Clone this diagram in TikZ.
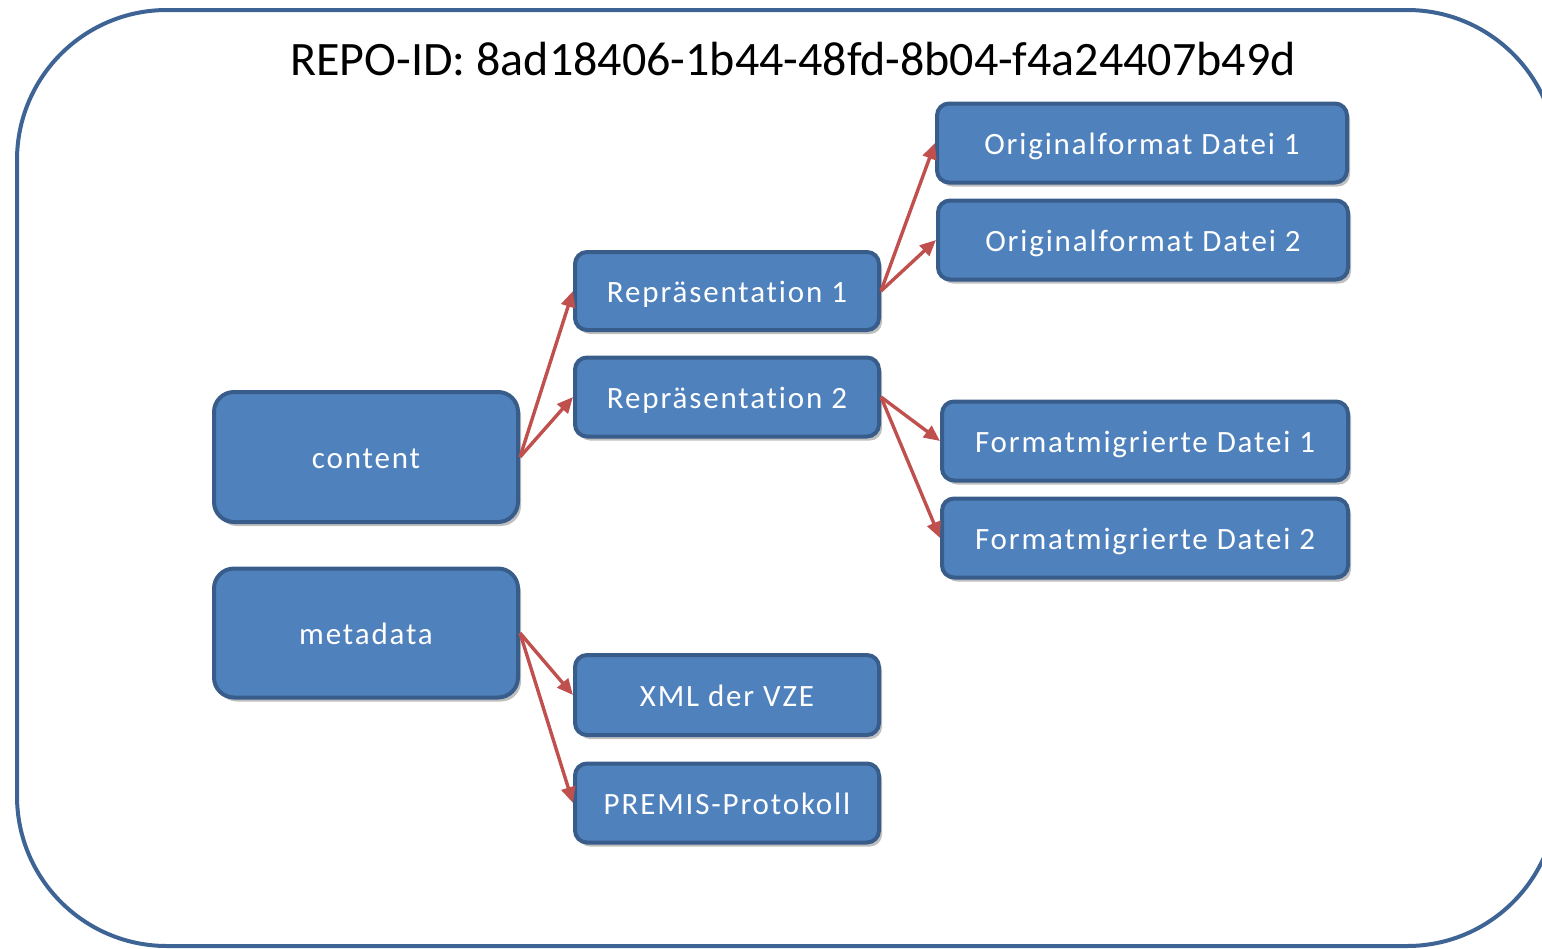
\documentclass[tikz,border=0pt]{standalone}
\usepackage{fontspec}
\setmainfont{Carlito}
\newfontfamily\boxfont[LetterSpace=6,RawFeature={-liga;-clig;-calt;-dlig}]{Carlito}
\usetikzlibrary{shadows,arrows.meta}
\definecolor{frameblue}{HTML}{3D6494}
\definecolor{boxfill}{HTML}{4F81BD}
\definecolor{boxline}{HTML}{385D8A}
\definecolor{arrowred}{HTML}{C0504D}
\tikzset{
  box/.style={draw=boxline, line width=4pt, fill=boxfill, rounded corners=12pt,
    text=white, font=\boxfont\fontsize{31}{34}\selectfont, inner sep=0pt,
    text height=27pt, text depth=5pt,
    drop shadow={shadow xshift=3pt, shadow yshift=-4pt, opacity=0.25, fill=black}},
  bigbox/.style={box, rounded corners=20pt},
  link/.style={draw=arrowred, line width=3.4pt, -{Triangle[length=16pt,width=14pt]}},
}
\newcommand{\tisplit}{\kern0.06em}
\begin{document}
\begin{tikzpicture}[x=1pt,y=-1pt]
\useasboundingbox (0,0) rectangle (1542,948);
\draw[frameblue, line width=4pt, rounded corners=150pt] (17,10) rectangle (1557,946);
\node[font=\fontsize{48}{54}\selectfont] (title) at (793,59) {REPO-ID: 8ad18406-1b44-48fd-8b04-f4a24407b49d};
\node[bigbox, minimum width=304pt, minimum height=130pt] (content) at (366,457) {content};
\node[bigbox, minimum width=304pt, minimum height=129pt] (meta) at (366,633) {metadata};
\node[box, minimum width=304pt, minimum height=78pt] (rep1) at (727,291) {Repräsentat\tisplit ion 1};
\node[box, minimum width=304pt, minimum height=79pt] (rep2) at (727,397) {Repräsentat\tisplit ion 2};
\node[box, minimum width=410pt, minimum height=79pt] (of1) at (1142,143) {Originalformat Datei 1};
\node[box, minimum width=410pt, minimum height=79pt] (of2) at (1143,240) {Originalformat Datei 2};
\node[box, minimum width=406pt, minimum height=79pt] (fm1) at (1145,441) {Formatmigrierte Datei 1};
\node[box, minimum width=406pt, minimum height=79pt] (fm2) at (1145,538) {Formatmigrierte Datei 2};
\node[box, minimum width=304pt, minimum height=80pt] (xml) at (727,695) {XML der VZE};
\node[box, minimum width=304pt, minimum height=79pt] (premis) at (727,803) {PREMIS-Protokoll};
\draw[link] (content.east) -- (rep1.west);
\draw[link] (content.east) -- (rep2.west);
\draw[link] (rep1.east) -- (of1.west);
\draw[link] (rep1.east) -- (of2.west);
\draw[link] (rep2.east) -- (fm1.west);
\draw[link] (rep2.east) -- (fm2.west);
\draw[link] (meta.east) -- (xml.west);
\draw[link] (meta.east) -- (premis.west);
\end{tikzpicture}
\end{document}
